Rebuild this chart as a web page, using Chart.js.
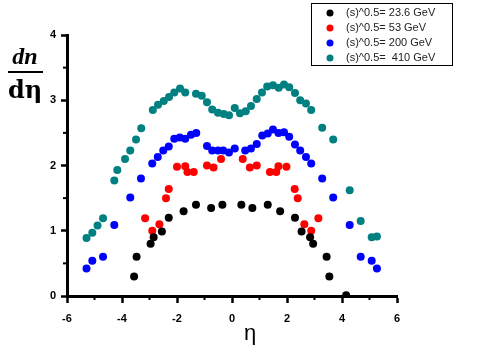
<!DOCTYPE html>
<html lang="en">
  <head>
    <meta charset="UTF-8" />
    <title>dn/deta</title>
    <script src="https://cdn.jsdelivr.net/npm/chart.js"></script>
    <style>
      body { margin: 0; background: #fff; }
      #wrap { width: 480px; height: 360px; }
    </style>
  </head>
  <body>
    <div id="wrap"><canvas id="etaChart" width="480" height="360"></canvas></div>

    <script>
      const seriesLabels = [
        "(s)^0.5= 23.6 GeV",
        "(s)^0.5= 53 GeV",
        "(s)^0.5= 200 GeV",
        "(s)^0.5=  410 GeV",
      ];
      const seriesColors = ["#000000", "#ff0000", "#0000ff", "#008080"];

      const eta236 = [-3.56, -3.47, -2.96, -2.85, -2.55, -2.30, -1.76, -1.31, -0.76, -0.35, 0.34, 0.74, 1.30, 1.75, 2.29, 2.53, 2.84, 2.95, 3.44, 3.54, 4.15];
      const dn236 = [0.30, 0.60, 0.80, 0.90, 0.99, 1.20, 1.30, 1.40, 1.35, 1.40, 1.40, 1.35, 1.40, 1.30, 1.20, 0.99, 0.90, 0.80, 0.60, 0.30, 0.01];

      const eta53 = [-3.16, -2.90, -2.64, -2.40, -2.30, -2.00, -1.70, -1.62, -1.39, -0.91, -0.67, -0.40, 0.39, 0.65, 0.90, 1.38, 1.61, 1.69, 1.98, 2.28, 2.39, 2.63, 2.88, 3.14];
      const dn53 = [1.19, 1.00, 1.10, 1.50, 1.64, 1.98, 1.99, 1.90, 1.90, 2.00, 1.97, 2.10, 2.10, 1.97, 2.00, 1.90, 1.90, 1.99, 1.98, 1.64, 1.50, 1.10, 1.00, 1.19];

      const eta200 = [-5.29, -5.08, -4.69, -4.28, -3.70, -3.31, -2.90, -2.70, -2.50, -2.30, -2.10, -1.90, -1.70, -1.49, -1.30, -0.91, -0.72, -0.51, -0.32, -0.11, 0.10, 0.48, 0.69, 0.90, 1.10, 1.30, 1.49, 1.69, 1.89, 2.08, 2.29, 2.48, 2.69, 2.88, 3.28, 3.68, 4.28, 4.68, 5.08, 5.27];
      const dn200 = [0.42, 0.54, 0.60, 1.09, 1.51, 1.80, 2.03, 2.13, 2.23, 2.29, 2.41, 2.43, 2.41, 2.47, 2.50, 2.30, 2.23, 2.23, 2.23, 2.20, 2.26, 2.23, 2.26, 2.33, 2.46, 2.49, 2.55, 2.50, 2.51, 2.44, 2.32, 2.23, 2.13, 2.03, 1.80, 1.51, 1.09, 0.60, 0.54, 0.42];

      const eta410 = [-5.29, -5.08, -4.89, -4.69, -4.28, -4.17, -3.89, -3.70, -3.49, -3.30, -2.88, -2.69, -2.48, -2.29, -2.10, -1.89, -1.70, -1.31, -1.10, -0.91, -0.72, -0.51, -0.30, -0.11, 0.10, 0.29, 0.50, 0.69, 0.90, 1.09, 1.28, 1.49, 1.70, 1.89, 2.08, 2.29, 2.48, 2.69, 2.88, 3.28, 3.68, 4.28, 4.68, 5.08, 5.27];
      const dn410 = [0.89, 0.97, 1.08, 1.19, 1.77, 1.93, 2.10, 2.23, 2.40, 2.57, 2.85, 2.93, 2.99, 3.05, 3.12, 3.18, 3.12, 3.10, 3.07, 2.97, 2.86, 2.81, 2.79, 2.77, 2.88, 2.80, 2.83, 2.91, 3.02, 3.12, 3.21, 3.23, 3.19, 3.24, 3.20, 3.11, 3.00, 2.95, 2.85, 2.58, 2.40, 1.62, 1.15, 0.90, 0.91];

      const xTicks = [-6, -4, -2, 0, 2, 4, 6];
      const yTicks = [0, 1, 2, 3, 4];

      function toPoints(xs, ys) {
        return xs.map((x, i) => ({ x: x, y: ys[i] }));
      }

      const seriesData = [
        toPoints(eta236, dn236),
        toPoints(eta53, dn53),
        toPoints(eta200, dn200),
        toPoints(eta410, dn410),
      ];

      // minor ticks, axis titles and the boxed legend
      const extras = {
        id: "extras",
        afterDraw(chart) {
          const ctx = chart.ctx;
          const xs = chart.scales.x;
          const ys = chart.scales.y;
          const area = chart.chartArea;
          ctx.save();
          ctx.strokeStyle = "#000";
          ctx.lineWidth = 2;
          for (let v = -5; v <= 5; v += 2) {
            const px = xs.getPixelForValue(v);
            ctx.beginPath();
            ctx.moveTo(px, area.bottom);
            ctx.lineTo(px, area.bottom + 4);
            ctx.stroke();
          }
          for (let v = 0.5; v < 4; v += 1) {
            const py = ys.getPixelForValue(v);
            ctx.beginPath();
            ctx.moveTo(area.left, py);
            ctx.lineTo(area.left - 4, py);
            ctx.stroke();
          }

          // x title
          ctx.fillStyle = "#000";
          ctx.textAlign = "center";
          ctx.textBaseline = "alphabetic";
          ctx.font = "22px 'Liberation Sans'";
          ctx.fillText("η", 250, 340);

          // y title as a fraction
          ctx.font = "bold italic 24px 'Liberation Serif'";
          ctx.fillText("dn", 25, 64);
          ctx.fillRect(8, 71, 35, 2);
          ctx.font = "bold 24px 'DejaVu Serif'";
          ctx.fillText("dη", 25, 98);

          // legend box
          ctx.lineWidth = 1;
          ctx.strokeRect(311.5, 3.5, 141, 62);
          ctx.textAlign = "left";
          ctx.textBaseline = "middle";
          ctx.font = "11px 'Liberation Sans'";
          seriesLabels.forEach((lab, i) => {
            const cy = 13 + i * 15;
            ctx.fillStyle = seriesColors[i];
            ctx.beginPath();
            ctx.arc(330, cy, 3.5, 0, Math.PI * 2);
            ctx.fill();
            ctx.fillStyle = "#222";
            ctx.fillText(lab, 346, cy);
          });
          ctx.restore();
        },
      };

      new Chart(document.getElementById("etaChart"), {
        type: "scatter",
        data: {
          datasets: seriesData.map((d, i) => ({
            label: seriesLabels[i],
            data: d,
            backgroundColor: seriesColors[i],
            borderColor: seriesColors[i],
            pointRadius: 4,
            pointBorderWidth: 0,
          })),
        },
        options: {
          responsive: false,
          animation: false,
          layout: { padding: { left: 27, right: 83, top: 35, bottom: 0 } },
          plugins: { legend: { display: false }, tooltip: { enabled: false } },
          scales: {
            x: {
              type: "linear",
              min: -6,
              max: 6,
              afterBuildTicks: (s) => { s.ticks = xTicks.map((v) => ({ value: v })); },
              afterFit: (s) => { s.height = 64; },
              border: { display: true, color: "#000", width: 3 },
              grid: { drawOnChartArea: false, drawTicks: true, tickLength: 7, tickWidth: 2.5, tickColor: "#000" },
              ticks: {
                color: "#000",
                padding: 9,
                font: { family: "'Liberation Sans'", size: 11, weight: "bold" },
              },
            },
            y: {
              type: "linear",
              min: 0,
              max: 4,
              afterBuildTicks: (s) => { s.ticks = yTicks.map((v) => ({ value: v })); },
              afterFit: (s) => { s.width = 40; },
              border: { display: true, color: "#000", width: 3 },
              grid: { drawOnChartArea: false, drawTicks: true, tickLength: 6, tickWidth: 2.5, tickColor: "#000" },
              ticks: {
                color: "#000",
                padding: 5,
                font: { family: "'Liberation Sans'", size: 11, weight: "bold" },
              },
            },
          },
        },
        plugins: [extras],
      });
    </script>
  </body>
</html>
